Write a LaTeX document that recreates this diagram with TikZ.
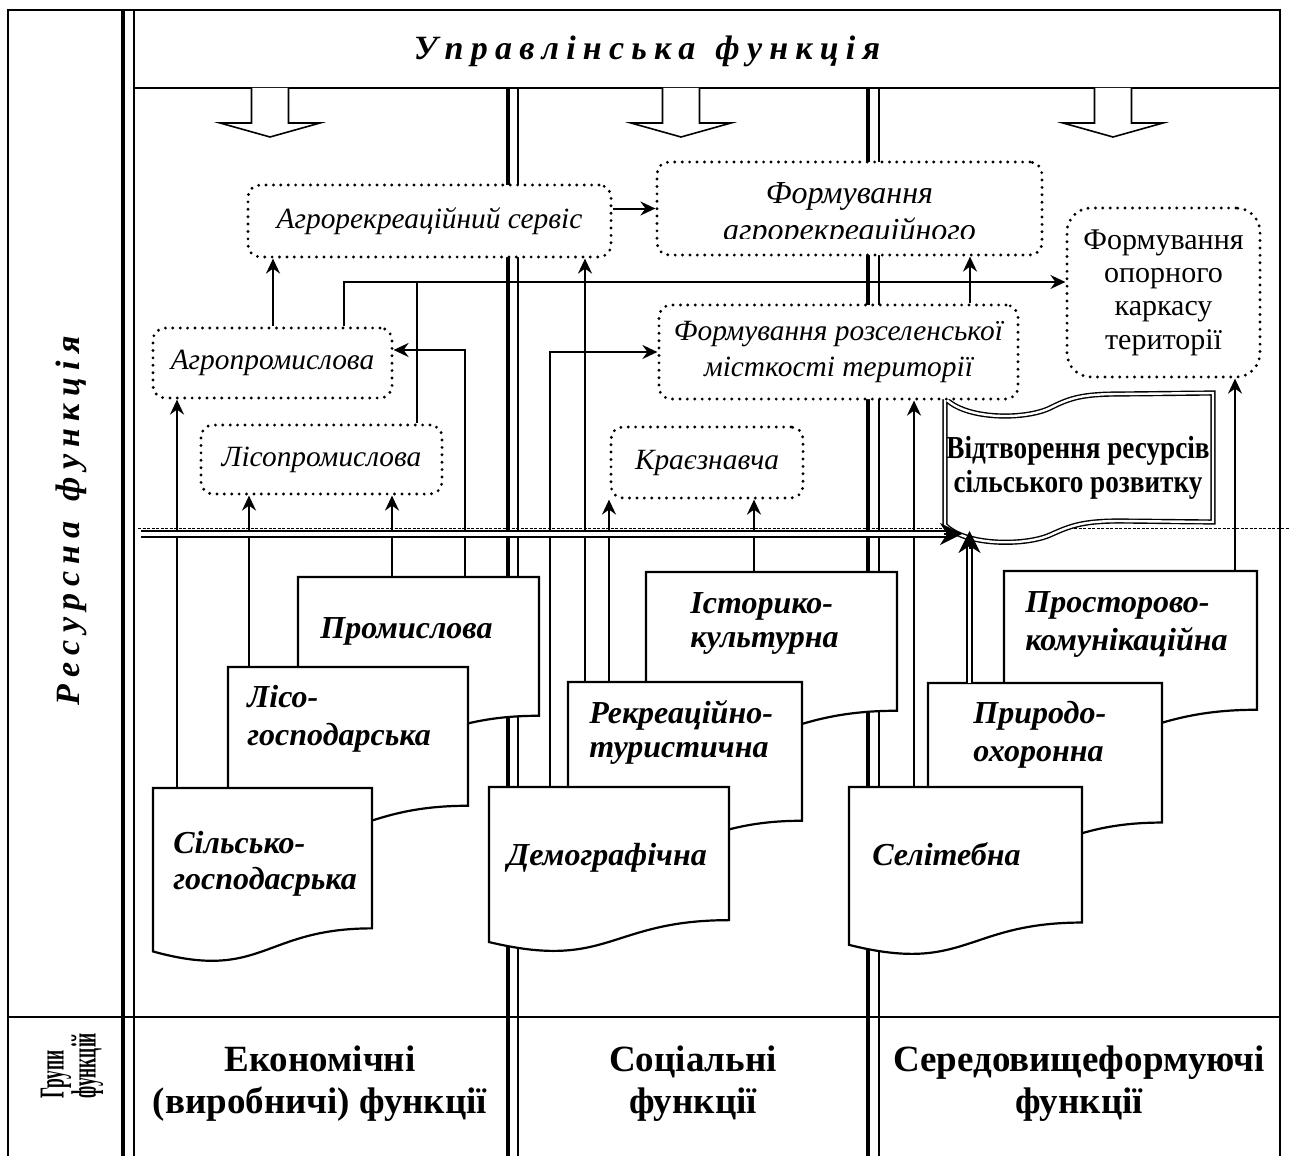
\documentclass[tikz,border=0pt]{standalone}
\usepackage{fontspec}
\usepackage{graphicx}
\setmainfont{Liberation Serif}
\newfontfamily\condfont{Liberation Serif}[FakeStretch=0.85]
\usetikzlibrary{arrows.meta,calc}
\makeatletter
\newcommand\spacedword[2]{\@tfor\sw@c:=#2\do{\sw@c\hspace{#1}}\unskip}
\makeatother
\newcommand\placebox[7]{%
 \pgfmathsetmacro\bcx{(#3+#5)/2}%
 \pgfmathsetmacro\bcy{(#4+#6)/2}%
 \pgfmathsetmacro\bw{(#5-#3)*0.5}%
 \pgfmathsetmacro\bh{(#6-#4)*0.5}%
 \node[#1, minimum width=\bw pt, minimum height=\bh pt] (#2) at (\bcx,\bcy) {#7};%
}
\newcommand\docshape[5]{%
 \pgfmathsetmacro\dxr{#2+#4}%
 \pgfmathsetmacro\dyr{#3+0.802*#5}%
 \pgfmathsetmacro\dcx{#2+0.5*#4}%
 \pgfmathsetmacro\dcy{#3+1.1075*#5}%
 \pgfmathsetmacro\dyl{#3+0.934*#5}%
 \pgfmathsetmacro\dw{#4*0.5}%
 \pgfmathsetmacro\dh{0.802*#5*0.5}%
 \path[docline] (#2,#3) -- (\dxr,#3) -- (\dxr,\dyr) .. controls (\dcx,\dyr) and (\dcx,\dcy) .. (#2,\dyl) -- cycle;%
 \node[inner sep=0pt, outer sep=0pt, minimum width=\dw pt, minimum height=\dh pt, anchor=north west] (#1) at (#2,#3) {};%
}
\begin{document}
\begin{tikzpicture}[x=0.5pt,y=-0.5pt,
 frameline/.style={line width=1pt},
 thickline/.style={line width=2pt},
 thinline/.style={line width=0.8pt},
 dashline/.style={line width=0.5pt, dash pattern=on 1.5pt off 0.75pt},
 dotbox/.style={draw, fill=white, line width=1.6pt, dash pattern=on 0pt off 3.7pt, line cap=round, rounded corners=6pt, inner sep=2pt, align=center, font=\fontsize{14.7}{18}\selectfont\itshape},
 docline/.style={draw, fill=white, line width=1.1pt, line join=miter},
 doctext/.style={anchor=base west, inner sep=0pt, font=\fontsize{16}{19}\selectfont\bfseries\itshape},
 conn/.style={line width=1pt, -{Stealth[length=7.5pt,width=7pt,inset=2.5pt]}},
 plain/.style={line width=1pt},
 dblline/.style={double, double distance=1.6pt, line width=1pt},
 bigtip/.style={line width=1pt, -{Stealth[length=11pt,width=11pt,inset=3.5pt]}},
 blockarrow/.style={draw, fill=white, line width=0.8pt, line join=miter},
 grouplabel/.style={font=\fontsize{18.5}{21}\selectfont\bfseries, align=center, inner sep=0pt},
 spacedlabel/.style={font=\fontsize{17}{20}\selectfont\bfseries\itshape, inner sep=0pt}
]
\useasboundingbox (0,0) rectangle (1289,1156);

% guide coordinates
\coordinate (xA) at (177,0);
\coordinate (xB) at (249,0);
\coordinate (xC) at (392,0);
\coordinate (xD) at (465,0);
\coordinate (xE) at (417,0);
\coordinate (xF) at (344,0);
\coordinate (xG) at (273,0);
\coordinate (xH) at (550,0);
\coordinate (xI) at (585,0);
\coordinate (xJ) at (609,0);
\coordinate (xK) at (754,0);
\coordinate (xL) at (914,0);
\coordinate (xM) at (970,0);
\coordinate (xO) at (1235,0);
\coordinate (yAg) at (0,350);
\coordinate (yTop) at (0,282);

% frame
\draw[frameline] (8,1156) -- (8,10) -- (1280,10) -- (1280,1156);
\draw[frameline] (134,88) -- (1280,88);
\draw[frameline] (8,1017) -- (1280,1017);
\draw[thickline] (123,10) -- (123,1156);
\draw[thinline] (134,10) -- (134,1156);
\draw[thickline] (508,88) -- (508,1156);
\draw[thinline] (518,88) -- (518,1156);
\draw[thickline] (868,88) -- (868,1156);
\draw[thinline] (879,88) -- (879,1156);

% dashed line
\draw[dashline] (138,528) -- (1289,528);

% header
\node[spacedlabel, anchor=base] (hdr) at (647,60) {\spacedword{3.6pt}{Управлінська}\hspace{10pt}\spacedword{3.6pt}{функція}};
\node[spacedlabel, anchor=base, rotate=90] (res) at (79,521) {\spacedword{3.6pt}{Ресурсна}\hspace{10pt}\spacedword{3.6pt}{функція}};
\node[font=\fontsize{17.5}{16}\selectfont\bfseries, align=left, inner sep=0pt, rotate=90, anchor=west] (grp) at (72,1099) {\scalebox{0.5}[1]{Групи}\\\scalebox{0.5}[1]{функцій}};

% bottom labels
\node[grouplabel] (econ) at (320,1084) {Економічні\\(виробничі) функції};
\node[grouplabel] (soc) at (693,1084) {Соціальні\\функції};
\node[grouplabel] (env) at (1079,1084) {Середовищеформуючі\\функції};

% hollow block arrows
\foreach \cx in {270,681,1113}{
 \path[blockarrow] (\cx-18.5,88) -- (\cx-18.5,123) -- (\cx-50,123) -- (\cx,137) -- (\cx+50,123) -- (\cx+18.5,123) -- (\cx+18.5,88);
}

% banner
\path[draw, fill=white, double, double distance=1.2pt, line width=0.7pt]
 (945,398) .. controls (965,420) and (1025,420) .. (1050,408)
 .. controls (1070,398) and (1082,394) .. (1120,394) -- (1213,393)
 -- (1213,522) -- (1120,521)
 .. controls (1082,521) and (1070,526) .. (1050,535)
 .. controls (1025,546) and (965,546) .. (945,525) -- cycle;
\node[font=\condfont\bfseries\fontsize{16}{17}\selectfont, align=center, inner sep=0pt] (bantxt) at (1078,468) {Відтворення ресурсів\\сільського розвитку};

% dotted boxes
\placebox{dotbox}{servis}{248}{185}{611}{257}{Агрорекреаційний сервіс}
\placebox{dotbox}{fagro}{657}{162}{1042}{255}{}
\begin{scope}
 \clip (662,166) rectangle (1038,238);
 \node[font=\fontsize{16}{18}\selectfont\itshape, anchor=base, inner sep=0pt] (fagroT1) at (849.5,203) {Формування};
 \node[font=\fontsize{16}{18}\selectfont\itshape, anchor=base, inner sep=0pt] (fagroT2) at (849.5,240) {агрорекреаційного};
\end{scope}
\placebox{dotbox, font=\fontsize{15}{16.7}\selectfont, rounded corners=12pt}{opor}{1067}{208}{1260}{377}{Формування\\опорного\\каркасу\\території}
\placebox{dotbox}{agprom}{153}{328}{392}{398}{Агропромислова}
\placebox{dotbox}{lisoprom}{201}{425}{442}{494}{Лісопромислова}
\placebox{dotbox}{rozsel}{659}{305}{1018}{399}{Формування розселенської\\місткості території}
\placebox{dotbox}{kraez}{611}{427}{803}{498}{Краєзнавча}

% documents (back to front)
\docshape{prom}{298}{577}{241}{173}
\docshape{liso}{228}{667}{240}{173}
\docshape{sil}{153}{788}{219}{175}
\docshape{ist}{646}{572}{251}{173}
\docshape{rek}{568}{682}{234}{173}
\docshape{dem}{489}{787}{240}{166}
\docshape{pros}{1004}{571}{253}{173}
\docshape{prir}{928}{683}{234}{174}
\docshape{sel}{849}{787}{233}{169}

\node[doctext] (promT) at (320,638) {Промислова};
\node[doctext] (lisoT1) at (247,707) {Лісо-};
\node[doctext] (lisoT2) at (247,745) {господарська};
\node[doctext] (silT1) at (173,853) {Сільсько-};
\node[doctext] (silT2) at (173,889) {господасрька};
\node[doctext] (istT1) at (690,613) {Історико-};
\node[doctext] (istT2) at (690,647) {культурна};
\node[doctext] (rekT1) at (589,723) {Рекреаційно-};
\node[doctext] (rekT2) at (589,757) {туристична};
\node[doctext] (demT) at (507,865) {Демографічна};
\node[doctext] (prosT1) at (1025,612) {Просторово-};
\node[doctext] (prosT2) at (1025,650) {комунікаційна};
\node[doctext] (prirT1) at (973,723) {Природо-};
\node[doctext] (prirT2) at (973,761) {охоронна};
\node[doctext] (selT) at (872,865) {Селітебна};

% connectors
\draw[conn] (sil.north -| xA) -- (agprom.south -| xA);
\draw[conn] (liso.north -| xB) -- (lisoprom.south -| xB);
\draw[conn] (prom.north -| xC) -- (lisoprom.south -| xC);
\draw[conn] (prom.north -| xD) |- (agprom.east |- yAg);
\draw[plain] (lisoprom.north -| xE) -- (xE |- yTop);
\draw[conn] (agprom.north -| xF) |- (opor.west |- yTop);
\draw[conn] (agprom.north -| xG) -- (servis.south -| xG);
\draw[conn] (servis.east |- fagro.west) -- (fagro.west);
\draw[conn] (dem.north -| xH) |- (rozsel.west);
\draw[conn] (rek.north -| xI) -- (servis.south -| xI);
\draw[conn] (rek.north -| xJ) -- (kraez.south -| xJ);
\draw[conn] (ist.north -| xK) -- (kraez.south -| xK);
\draw[conn] (sel.north -| xL) -- (rozsel.south -| xL);
\draw[conn] (rozsel.north -| xM) -- (fagro.south -| xM);
\draw[conn] (pros.north -| xO) -- (opor.south -| xO);

% double arrows into the banner
\coordinate (dblStart) at (141,534);
\coordinate (banL) at (962,534);
\coordinate (banB) at (969.5,531);
\draw[dblline] (dblStart) -- ($(banL)+(-14,0)$);
\draw[bigtip] ($(banL)+(-18,0)$) -- (banL);
\draw[dblline] (prir.north -| banB) -- ($(banB)+(0,14)$);
\draw[bigtip] ($(banB)+(0,18)$) -- (banB);
\end{tikzpicture}
\end{document}
